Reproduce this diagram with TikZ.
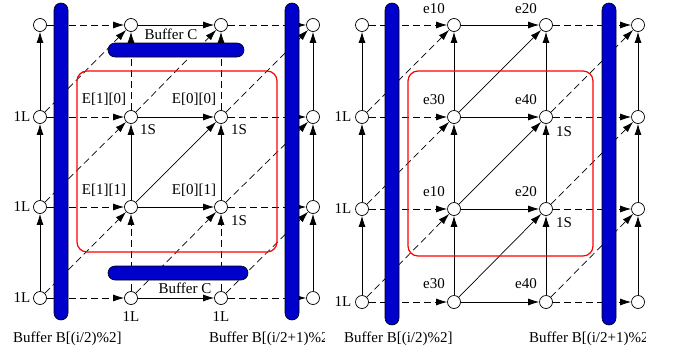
\documentclass[tikz,border=0pt]{standalone}
\usepackage{fontspec}
\setmainfont{Liberation Serif}
\usetikzlibrary{arrows.meta}
\definecolor{barblue}{RGB}{0,0,205}
\pgfdeclarelayer{edges}
\pgfdeclarelayer{bars}
\pgfsetlayers{edges,bars,main}
\begin{document}
\begin{tikzpicture}[x=1pt,y=-1pt,font=\fontsize{15}{18}\selectfont,
  pt/.style={circle,draw,fill=white,minimum size=13pt,inner sep=0pt,line width=0.7pt},
  arr/.style={-{Latex[length=11pt,width=7pt]},line width=0.7pt},
  dsh/.style={arr,dash pattern=on 7pt off 4pt},
  bar/.style={draw=black,fill=barblue,rounded corners=7pt,line width=0.6pt},
  redbox/.style={draw=red,line width=1.2pt,rounded corners=10pt},
  lbl/.style={inner sep=0pt}]
\useasboundingbox (0,0) rectangle (674,351);
% nodes
\foreach \c/\x in {1/40,2/131,3/221,4/313}
  \foreach \r/\y in {1/25,2/117,3/207,4/298}
    \node[pt] (a\c\r) at (\x,\y) {};
\foreach \c/\x in {1/362,2/454,3/546,4/638}
  \foreach \r/\y in {1/25,2/117,3/209,4/302}
    \node[pt] (b\c\r) at (\x,\y) {};
% edges
\begin{pgfonlayer}{edges}
  \foreach \r in {1,2,3,4}{
    \draw[dsh] (a1\r) -- (a2\r);
    \draw[arr] (a2\r) -- (a3\r);
    \draw[dsh] (a3\r) -- (a4\r);
    \draw[dsh] (b1\r) -- (b2\r);
    \draw[arr] (b2\r) -- (b3\r);
    \draw[dsh] (b3\r) -- (b4\r);
  }
  \foreach \r/\s in {4/3,3/2,2/1}{
    \draw[arr] (a1\r) -- (a1\s);
    \draw[arr] (a4\r) -- (a4\s);
    \draw[dsh] (a1\r) -- (a2\s);
    \draw[dsh] (a3\r) -- (a4\s);
    \foreach \c in {1,2,3,4}{\draw[arr] (b\c\r) -- (b\c\s);}
    \draw[dsh] (b1\r) -- (b2\s);
    \draw[arr] (b2\r) -- (b3\s);
    \draw[dsh] (b3\r) -- (b4\s);
  }
  \draw[dsh] (a24) -- (a23);
  \draw[dsh] (a34) -- (a33);
  \draw[arr] (a23) -- (a22);
  \draw[arr] (a33) -- (a32);
  \draw[dsh] (a22) -- (a21);
  \draw[dsh] (a32) -- (a31);
  \draw[dsh] (a22) -- (a31);
  \draw[arr] (a23) -- (a32);
  \draw[dsh] (a24) -- (a33);
\end{pgfonlayer}
% bars and boxes
\begin{pgfonlayer}{bars}
  \draw[bar] (54,3) rectangle (68,320);
  \draw[bar] (285,3) rectangle (299,320);
  \draw[bar] (385,3) rectangle (399,325);
  \draw[bar] (602,3) rectangle (616,325);
  \draw[bar] (108,43) rectangle (244,57);
  \draw[bar] (108,266) rectangle (248,280);
  \draw[redbox] (77,71) rectangle (277,252);
  \draw[redbox] (408,71) rectangle (593,256);
\end{pgfonlayer}
% labels left panel
\node[lbl] (bc1) at (171,34) {Buffer C};
\node[lbl] (bc2) at (185,288) {Buffer C};
\node[lbl] (l1) at (104,99) {E[1][0]};
\node[lbl] (l2) at (194,99) {E[0][0]};
\node[lbl] (l3) at (148,130) {1S};
\node[lbl] (l4) at (239,130) {1S};
\node[lbl] (l5) at (104,190) {E[1][1]};
\node[lbl] (l6) at (194,190) {E[0][1]};
\node[lbl] (l7) at (239,221) {1S};
\node[lbl] (l8) at (131,317) {1L};
\node[lbl] (l9) at (221,317) {1L};
\node[lbl] (l10) at (22,117) {1L};
\node[lbl] (l11) at (22,207) {1L};
\node[lbl] (l12) at (22,298) {1L};
\node[lbl,anchor=west] (bb1) at (13,339) {Buffer B[(i/2)\%2]};
\begin{scope}
  \clip (200,325) rectangle (324,351);
  \node[lbl,anchor=west] (bb2) at (209,339) {Buffer B[(i/2+1)\%2};
\end{scope}
% labels right panel
\node[lbl] (m1) at (434,9) {e10};
\node[lbl] (m2) at (526,9) {e20};
\node[lbl] (m3) at (434,100) {e30};
\node[lbl] (m4) at (526,100) {e40};
\node[lbl] (m5) at (564,132) {1S};
\node[lbl] (m6) at (434,192) {e10};
\node[lbl] (m7) at (526,192) {e20};
\node[lbl] (m8) at (564,223) {1S};
\node[lbl] (m9) at (434,284) {e30};
\node[lbl] (m10) at (526,284) {e40};
\node[lbl] (m11) at (343,117) {1L};
\node[lbl] (m12) at (343,209) {1L};
\node[lbl] (m13) at (343,302) {1L};
\node[lbl,anchor=west] (bb3) at (344,339) {Buffer B[(i/2)\%2]};
\begin{scope}
  \clip (520,325) rectangle (645,351);
  \node[lbl,anchor=west] (bb4) at (529,339) {Buffer B[(i/2+1)\%2};
\end{scope}
\end{tikzpicture}
\end{document}
